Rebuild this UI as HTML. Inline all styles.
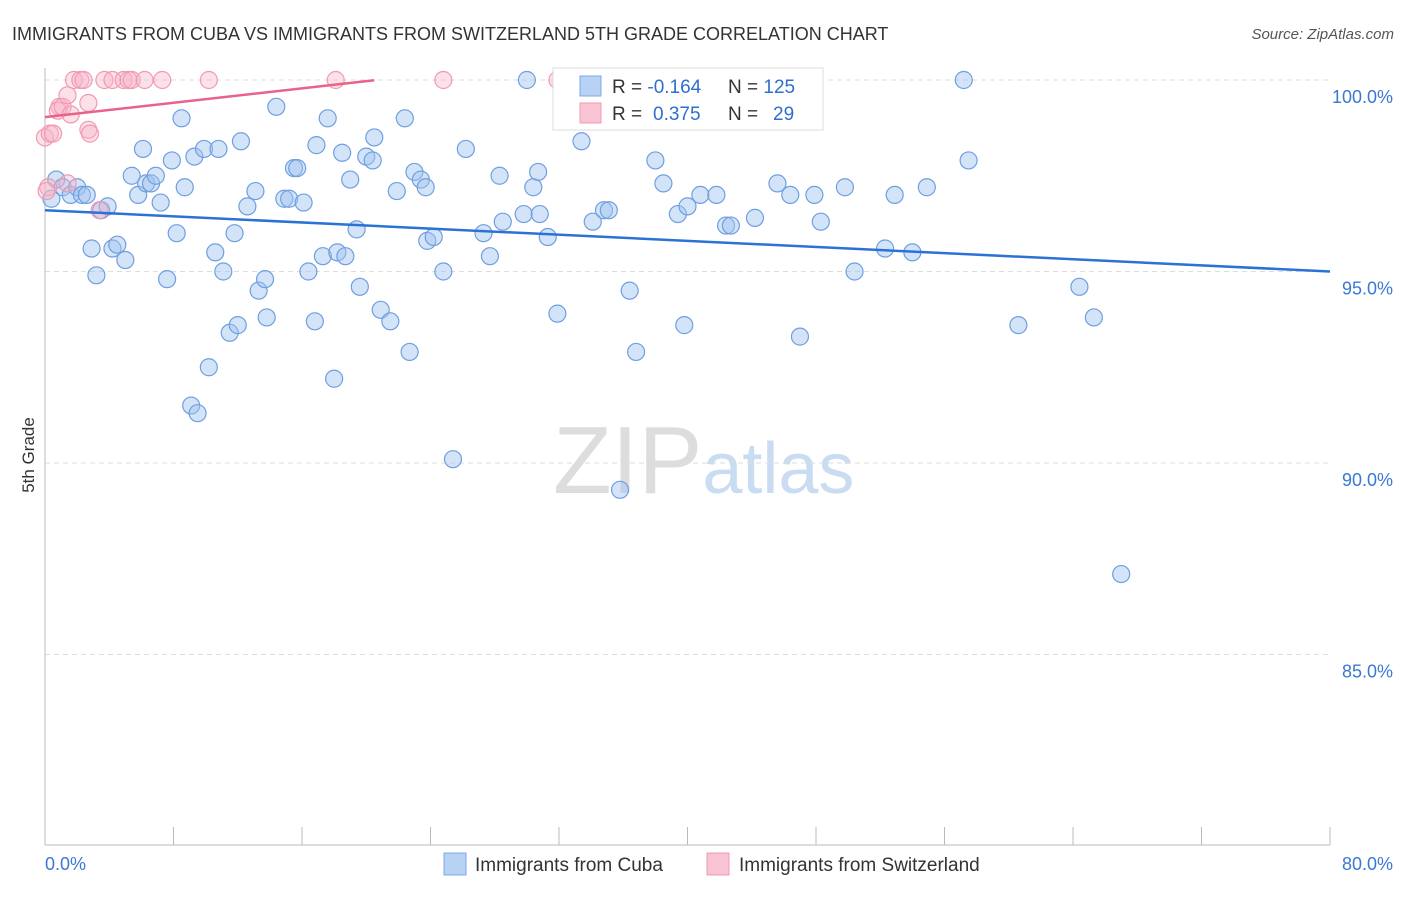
<!DOCTYPE html>
<html><head><meta charset="utf-8"><style>
body{margin:0;background:#fff;font-family:"Liberation Sans",sans-serif}
svg text{font-family:"Liberation Sans",sans-serif}
</style></head><body>
<svg id="c" width="1406" height="892" xmlns="http://www.w3.org/2000/svg">
<text x="12" y="40" font-size="18" fill="#333">IMMIGRANTS FROM CUBA VS IMMIGRANTS FROM SWITZERLAND 5TH GRADE CORRELATION CHART</text>
<text x="1394" y="39" font-size="15" fill="#555" text-anchor="end" font-style="italic">Source: ZipAtlas.com</text>
<text x="553" y="493" font-size="96" fill="#ddd" font-family="Liberation Serif">ZIP<tspan fill="#c9dcf2" font-family="Liberation Sans" font-size="72">atlas</tspan></text>
<text transform="translate(34,455) rotate(-90)" font-size="17" fill="#333" text-anchor="middle">5th Grade</text>
<g id="grid"></g><g id="axes"></g><g id="pts"></g><g id="trend"></g>
<g>
<rect x="553" y="68" width="270" height="62" fill="#fff" stroke="#ddd"/>
<rect x="580" y="76" width="21" height="20" fill="#b8d2f5" stroke="#7ea8e6"/>
<rect x="580" y="103" width="21" height="20" fill="#f8c4d3" stroke="#f09ab3"/>
<text x="612" y="93" font-size="19" fill="#333">R = <tspan fill="#2f6fd0">-0.164</tspan><tspan x="728">N = </tspan><tspan fill="#2f6fd0">125</tspan></text>
<text x="612" y="120" font-size="19" fill="#333">R = <tspan fill="#2f6fd0" x="653">0.375</tspan><tspan x="728">N = </tspan><tspan fill="#2f6fd0" x="773">29</tspan></text>
</g>
<g>
<rect x="444" y="853" width="22" height="22" fill="#b8d2f5" stroke="#7ea8e6"/>
<text x="475" y="871" font-size="19" fill="#333">Immigrants from Cuba</text>
<rect x="707" y="853" width="22" height="22" fill="#f8c4d3" stroke="#f09ab3"/>
<text x="739" y="871" font-size="19" fill="#333">Immigrants from Switzerland</text>
</g>
</svg>
<script>
const blueX=[0.4,0.7,1.1,1.6,2.0,2.3,2.6,3.5,3.9,2.9,3.2,4.2,4.5,5.0,5.4,5.8,6.1,6.3,6.6,6.9,7.2,7.6,7.9,8.2,8.5,8.7,9.1,9.5,9.3,9.9,10.2,10.6,10.8,11.1,11.5,11.8,12.0,12.2,12.6,13.1,13.3,13.7,13.8,14.4,14.9,15.2,15.5,15.7,16.1,16.4,16.8,16.9,17.3,17.6,18.0,18.2,18.5,18.7,19.0,19.6,19.4,20.0,20.4,20.5,20.9,21.5,21.9,22.4,22.7,23.0,23.4,23.7,23.8,24.2,24.8,25.4,26.2,27.3,27.7,28.3,28.5,29.8,30.0,30.4,30.7,30.8,31.3,31.9,33.4,34.1,34.8,35.1,35.8,36.4,36.8,38.0,38.5,39.4,39.8,40.0,40.8,41.8,42.4,42.7,44.2,45.6,46.4,47.0,47.9,48.3,49.8,50.4,52.3,52.9,54.0,54.9,57.2,57.5,60.6,64.4,65.3,67.0];
const blueY=[96.9,97.4,97.2,97.0,97.2,97.0,97.0,96.6,96.7,95.6,94.9,95.6,95.7,95.3,97.5,97.0,98.2,97.3,97.3,97.5,96.8,94.8,97.9,96.0,99.0,97.2,91.5,91.3,98.0,98.2,92.5,95.5,98.2,95.0,93.4,96.0,93.6,98.4,96.7,97.1,94.5,94.8,93.8,99.3,96.9,96.9,97.7,97.7,96.8,95.0,93.7,98.3,95.4,99.0,92.2,95.5,98.1,95.4,97.4,94.6,96.1,98.0,97.9,98.5,94.0,93.7,97.1,99.0,92.9,97.6,97.4,97.2,95.8,95.9,95.0,90.1,98.2,96.0,95.4,97.5,96.3,96.5,100.0,97.2,97.6,96.5,95.9,93.9,98.4,96.3,96.6,96.6,89.3,94.5,92.9,97.9,97.3,96.5,93.6,96.7,97.0,97.0,96.2,96.2,96.4,97.3,97.0,93.3,97.0,96.3,97.2,95.0,95.6,97.0,95.5,97.2,100.0,97.9,93.6,94.6,93.8,87.1];
const pinkX=[0.0,0.3,0.5,0.2,0.9,0.8,1.1,1.4,1.6,1.8,2.2,2.4,2.7,2.7,2.8,3.7,4.2,4.9,5.2,5.4,6.2,7.3,10.2,18.1,24.8,31.9,1.4,3.4,0.1];
const pinkY=[98.5,98.6,98.6,97.2,99.3,99.2,99.3,99.6,99.1,100,100,100,99.4,98.7,98.6,100,100,100,100,100,100,100,100,100,100,100,97.3,96.6,97.1];
const blueTrend=[96.6,95.0]; // y at x=0 and x=80
const pinkTrend=[99.03,0.047]; // intercept, slope
const yTicks=[100,95,90,85];
const xTickLabels=["0.0%","80.0%"];
const NS="http://www.w3.org/2000/svg";
const sx=v=>45+v*(1285/80), sy=v=>80+(100-v)*38.3;
function mk(t,a,p){const e=document.createElementNS(NS,t);for(const k in a)e.setAttribute(k,a[k]);document.getElementById(p).appendChild(e);return e;}
yTicks.forEach(t=>{const g=mk('line',{x1:45,x2:1330,y1:sy(t),y2:sy(t),stroke:'#ddd','stroke-dasharray':'5,4'},'grid');


const l=mk('text',{x:1393,y:sy(t)+23,'font-size':18,fill:'#3a78d4','text-anchor':'end'},'grid');l.textContent=t.toFixed(1)+'%';

});
let ax=mk('line',{x1:45,x2:45,y1:68,y2:845,stroke:'#bbb'},'axes');


ax=mk('line',{x1:45,x2:1330,y1:845,y2:845,stroke:'#bbb'},'axes');


for(let i=0;i<=10;i++){const t=mk('line',{x1:sx(i*8),x2:sx(i*8),y1:827,y2:845,stroke:'#bbb'},'axes');

}
[[0,45,'start'],[80,1393,'end']].forEach((d,i)=>{const t=mk('text',{x:d[1],y:870,'font-size':18,fill:'#3a78d4','text-anchor':d[2]},'axes');t.textContent=xTickLabels[i];

});
blueX.forEach((x,i)=>{const c=mk('circle',{cx:sx(x),cy:sy(blueY[i]),r:8.5,fill:'rgba(160,196,240,0.45)',stroke:'#6f9fe0','stroke-width':1.2},'pts');

});
pinkX.forEach((x,i)=>{const c=mk('circle',{cx:sx(x),cy:sy(pinkY[i]),r:8.5,fill:'rgba(248,180,200,0.4)',stroke:'#f199b2','stroke-width':1.2},'pts');

});
let tl=mk('line',{x1:sx(0),y1:sy(blueTrend[0]),x2:sx(80),y2:sy(blueTrend[1]),stroke:'#2b72d6','stroke-width':2.5},'trend');


const xc=Math.min(20.5,(100-pinkTrend[0])/pinkTrend[1]);
tl=mk('polyline',{points:`${sx(0)},${sy(pinkTrend[0])} ${sx(xc)},${sy(pinkTrend[0]+pinkTrend[1]*xc)} ${sx(20.5)},${sy(pinkTrend[0]+pinkTrend[1]*xc)}`,fill:'none',stroke:'#e8628a','stroke-width':2.5},'trend');


</script>
</body></html>
